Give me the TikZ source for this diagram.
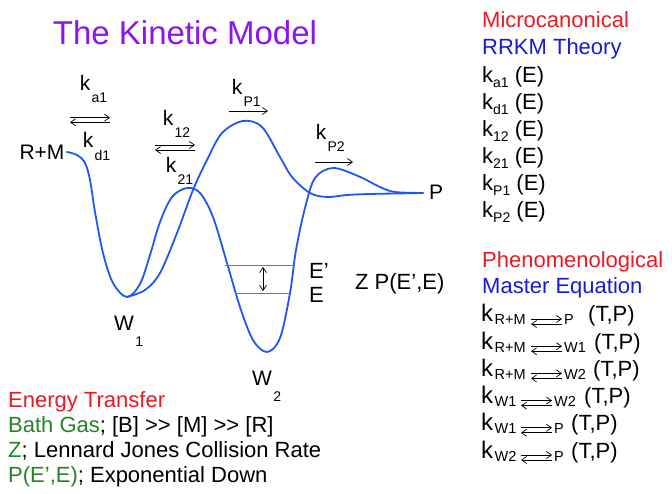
\documentclass[tikz,border=0pt]{standalone}
\usepackage{fontspec}
\setmainfont{Liberation Sans}
\usepackage{xcolor}
\usepackage{tikz}
\usetikzlibrary{calc, arrows.meta, positioning}

% chỉ số dưới hạ thấp cho cột bên phải
\newcommand{\ksub}[1]{\raisebox{-5pt}{\fontsize{14}{16}\selectfont #1}}

\begin{document}
\begin{tikzpicture}[>={Straight Barb[length=5pt,width=7pt]}, x=1pt, y=-1pt,
    txt/.style={font=\fontsize{22}{26}\selectfont, inner sep=0pt, anchor=base west},
    lbl/.style={font=\fontsize{21}{24}\selectfont, inner sep=0pt},
    sublbl/.style={font=\fontsize{14}{16}\selectfont, inner sep=0pt, anchor=west},
    subtxt/.style={font=\fontsize{14.5}{16}\selectfont, inner sep=0pt, anchor=base west},
    curve/.style={draw=curveblue, line width=1.8pt, line join=round, line cap=round},
    level/.style={draw=levelgray, line width=0.8pt},
    rate/.style={->, line width=0.7pt}]
    % Định nghĩa màu
    \definecolor{titlepurple}{RGB}{140, 20, 240}
    \definecolor{curveblue}{RGB}{35, 85, 240}
    \definecolor{redtxt}{RGB}{235, 25, 35}
    \definecolor{bluetxt}{RGB}{25, 25, 215}
    \definecolor{greentxt}{RGB}{40, 130, 40}
    \definecolor{levelgray}{RGB}{120, 120, 120}

    \useasboundingbox (0,0) rectangle (672,494);

    % 1. Tiêu đề
    \node[font=\fontsize{33}{36}\selectfont, text=titlepurple, inner sep=0pt, anchor=base]
        (title) at (185,45) {The Kinetic Model};

    % 2. Đường thế năng: R+M -> W1 -> W2 -> P
    \draw[curve] plot[smooth, tension=0.55] coordinates {
        (67,152) (77,155) (85,163) (90,180) (95,212) (103,253) (113,283) (127,297)
        (140,284) (150,255) (160,222) (172,197) (187,188) (200,193) (213,217)
        (227,263) (240,307) (253,340) (267,352) (280,338) (290,293) (296,250)
        (305,208) (315,178) (333,168) (358,176) (380,187) (395,192) (423,193)};

    % 3. Đường thế năng: W1 -> P (qua đỉnh lớn)
    \draw[curve] plot[smooth, tension=0.55] coordinates {
        (127,297) (145,290) (160,273) (177,233) (193,190) (207,160) (222,133)
        (243,121) (262,127) (280,157) (292,177) (310,193) (327,197) (347,195)
        (370,194) (423,193)};

    % 4. Mức năng lượng E', E
    \draw[level] (225,265) -- (295,265);
    \draw[level] (235,293) -- (290,293);
    \draw[<->, line width=0.7pt] (263,267) -- (263,291);
    \node[txt] (ep) at (309,279) {E’};
    \node[txt] (e) at (309,303) {E};
    \node[txt] (zp) at (355,290) {Z P(E’,E)};

    % 5. Nhãn các điểm
    \node[lbl] (rm) at (42,152) {R+M};
    \node[lbl] (prod) at (436,192) {P};
    \node[lbl] (w1) at (124,323) {W};
    \node[sublbl] (w1s) at ([xshift=1pt, yshift=-19pt]w1.east) {1};
    \node[lbl] (w2) at (262,378) {W};
    \node[sublbl] (w2s) at ([xshift=1pt, yshift=-19pt]w2.east) {2};

    % 6. Hằng số tốc độ trên giản đồ
    \foreach \n/\s/\x/\y in {ka/a1/85/83, kd/d1/88/140, k12/12/168/118,
                             k21/21/171/165, kp1/P1/237/87, kp2/P2/321/132} {
        \node[lbl] (\n) at (\x,\y) {k};
        \node[sublbl] (\n-s) at ([xshift=1pt, yshift=-15pt]\n.east) {\s};
    }
    \coordinate (aL) at (70,120);  \coordinate (aR) at (110,120);
    \coordinate (bL) at (155,147.5); \coordinate (bR) at (195,147.5);
    \draw[rate] ([yshift=2.3pt]aL) -- ([yshift=2.3pt]aR);
    \draw[rate] ([yshift=-2.3pt]aR) -- ([yshift=-2.3pt]aL);
    \draw[rate] ([yshift=2.5pt]bL) -- ([yshift=2.5pt]bR);
    \draw[rate] ([yshift=-2.5pt]bR) -- ([yshift=-2.5pt]bL);
    \draw[rate] (229,111) -- (268,111);
    \draw[rate] (315,162) -- (353,162);

    % 7. Cột phải: RRKM
    \node[txt, text=redtxt] (micro) at (482,28) {Microcanonical};
    \node[txt, text=bluetxt] (rrkm) at (482,55) {RRKM Theory};
    \foreach \s [count=\i from 0] in {a1,d1,12,21,P1,P2}
        \node[txt] (ke\i) at (482,83+27*\i) {k\ksub{\s} (E)};

    % 8. Cột phải: phương trình chủ
    \node[txt, text=redtxt] (pheno) at (482,268) {Phenomenological};
    \node[txt, text=bluetxt] (master) at (482,294) {Master Equation};
    \foreach \s/\d/\ax/\tx [count=\i from 0] in {R+M/P/531/588, R+M/W1/531/594,
            R+M/W2/531/593, W1/W2/521/584, W1/P/521/571, W2/P/521/571} {
        \pgfmathsetmacro{\yb}{322+27.2*\i}
        \node[txt, font=\fontsize{24}{26}\selectfont] (mk\i) at (481,\yb) {k};
        \node[subtxt] (ms\i) at ([xshift=1pt, yshift=-3pt]mk\i.base east) {\s};
        \node[subtxt] (md\i) at (\ax+33,\yb+3) {\d};
        \coordinate (al\i) at (\ax,\yb-0.5);
        \coordinate (ar\i) at (\ax+31,\yb-0.5);
        \draw[rate] ([yshift=2.5pt]al\i) -- ([yshift=2.5pt]ar\i);
        \draw[rate] ([yshift=-2.5pt]ar\i) -- ([yshift=-2.5pt]al\i);
        \node[txt] (tp\i) at (\tx,\yb) {(T,P)};
    }

    % 9. Truyền năng lượng
    \node[txt, text=redtxt] (et) at (8,407) {Energy Transfer};
    \node[txt] (bg) at (8,432) {\textcolor{greentxt}{Bath Gas}; [B] >\kern0pt> [M] >\kern0pt> [R]};
    \node[txt] (zr) at (8,457) {\textcolor{greentxt}{Z}; Lennard Jones Collision Rate};
    \node[txt] (pe) at (8,482) {\textcolor{greentxt}{P(E’,E)}; Exponential Down};
\end{tikzpicture}
\end{document}
